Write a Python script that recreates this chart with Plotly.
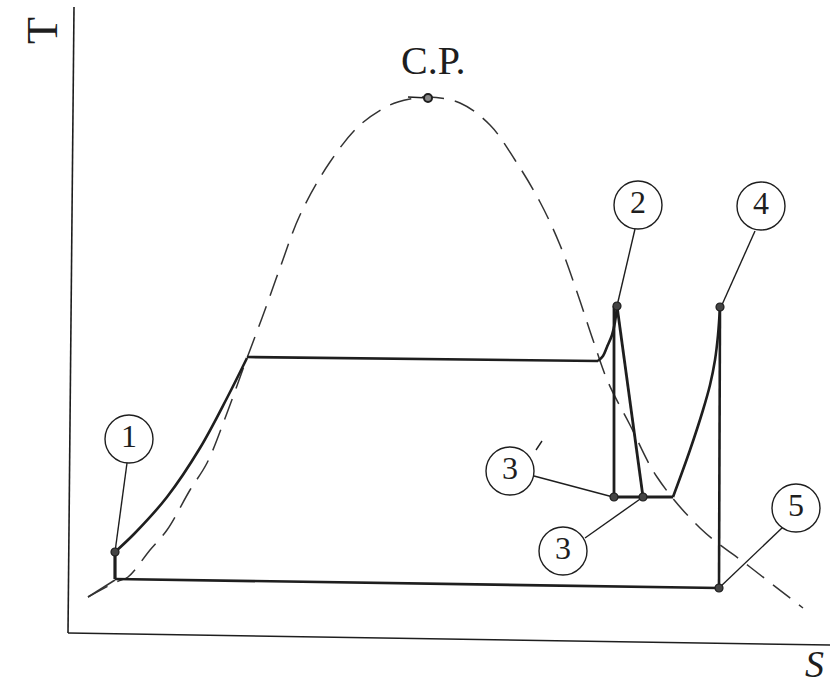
import plotly.graph_objects as go

# Schematic T-s diagram of a reheat Rankine cycle (arbitrary units, y grows downward)

# Saturation dome (dashed)
dome_s = [88, 116, 128, 150, 167, 190, 207, 227, 247, 262, 280, 300, 330, 360, 390, 410, 428,
          460, 490, 515, 540, 560, 578, 593, 608, 630, 657, 700, 750, 803]
dome_T = [597, 582, 577, 550, 530, 490, 463, 413, 358, 318, 268, 215, 162, 125, 105, 99, 97,
          103, 125, 160, 202, 245, 295, 340, 382, 425, 477, 528, 567, 608]

# Critical point
cp_s, cp_T = 428, 98

# Cycle paths
pump_s = [115, 115]
pump_T = [579, 552]
heat_s = [115, 135, 167, 200, 227, 247]
heat_T = [552, 533, 497, 448, 398, 358]
boil_s = [247, 598]
boil_T = [357, 361]
superheat_s = [598, 603, 607, 612, 615, 617]
superheat_T = [361, 356, 347, 335, 322, 306]
ideal_exp_s = [614, 614]
ideal_exp_T = [306, 497]
real_exp_s = [617, 643]
real_exp_T = [306, 497]
low_s = [613, 673]
low_T = [497, 497]
reheat_s = [673, 690, 703, 710, 715, 718, 720]
reheat_T = [497, 450, 410, 385, 360, 335, 307]
second_exp_s = [720, 719]
second_exp_T = [307, 588]
cond_s = [115, 719]
cond_T = [579, 588]
# short dash at the bottom-left corner
corner_s = [88, 115]
corner_T = [597, 580]

# State points (dots)
pt_s = [115, 617, 614, 643, 720, 719]
pt_T = [552, 306, 497, 497, 307, 588]

# State labels: circle centre, text, and the point each leader runs to
lab_s = [129, 638, 510, 563, 761, 796]
lab_T = [439, 205, 471, 551, 206, 508]
lab_text = ["1", "2", "3", "3", "4", "5"]
lead_from_s = [127, 635, 534, 585, 755, 783]
lead_from_T = [463, 229, 476, 538, 231, 527]
lead_to_s = [115, 617, 613, 643, 721, 719]
lead_to_T = [552, 306, 497, 497, 307, 588]

INK = "#1e1e1e"
FONT = "'Liberation Serif', 'DejaVu Serif', serif"

fig = go.Figure()

def line(xs, ys, width=2.6, color=INK, dash=None, shape="linear"):
    fig.add_trace(go.Scatter(x=xs, y=ys, mode="lines", hoverinfo="skip",
                             line=dict(color=color, width=width, dash=dash, shape=shape)))

# axes drawn by hand
line([74, 68], [7, 633], width=1.6)
line([68, 830], [633, 645], width=1.6)

# dome
line(dome_s, dome_T, width=1.5, color="#333333", dash="22px,11px", shape="spline")
line(corner_s, corner_T, width=1.5, color="#333333")
# critical point tick
line([408, cp_s], [97, cp_T], width=1.6)

# cycle
line(pump_s, pump_T, width=3.2)
line(heat_s, heat_T, width=2.6, shape="spline")
line(boil_s, boil_T, width=2.6)
line(superheat_s, superheat_T, width=2.6, shape="spline")
line(ideal_exp_s, ideal_exp_T, width=2.8)
line(real_exp_s, real_exp_T, width=2.8)
line(low_s, low_T, width=2.8)
line(reheat_s, reheat_T, width=2.6, shape="spline")
line(second_exp_s, second_exp_T, width=2.6)
line(cond_s, cond_T, width=2.6)

# leaders
for i in range(len(lab_s)):
    line([lead_from_s[i], lead_to_s[i]], [lead_from_T[i], lead_to_T[i]], width=1.4)
# prime tick next to 3'
line([536, 542], [450, 441], width=1.4)

# dots
fig.add_trace(go.Scatter(x=pt_s, y=pt_T, mode="markers", hoverinfo="skip",
                         marker=dict(size=8, color="#444444", line=dict(color=INK, width=1.2))))
fig.add_trace(go.Scatter(x=[cp_s], y=[cp_T], mode="markers", hoverinfo="skip",
                         marker=dict(size=8, color="#888888", line=dict(color=INK, width=2))))

# circled labels
fig.add_trace(go.Scatter(x=lab_s, y=lab_T, mode="markers+text", text=lab_text,
                         textposition="middle center", hoverinfo="skip",
                         textfont=dict(family=FONT, size=32, color=INK),
                         marker=dict(size=48, symbol="circle", color="white",
                                     line=dict(color=INK, width=1.4))))

fig.add_annotation(x=433, y=60, text="C.P.", showarrow=False,
                   font=dict(family=FONT, size=40, color=INK))
fig.add_annotation(x=42, y=31, text="T", showarrow=False, textangle=-90,
                   font=dict(family=FONT, size=44, color=INK))
fig.add_annotation(x=814, y=664, text="<i>S</i>", showarrow=False,
                   font=dict(family=FONT, size=38, color=INK))

fig.update_xaxes(range=[0, 834], visible=False, fixedrange=True)
fig.update_yaxes(range=[688, 0], visible=False, fixedrange=True)
fig.update_layout(width=834, height=688, margin=dict(l=0, r=0, t=0, b=0),
                  showlegend=False, plot_bgcolor="white", paper_bgcolor="white")

fig.write_html("out.html")
